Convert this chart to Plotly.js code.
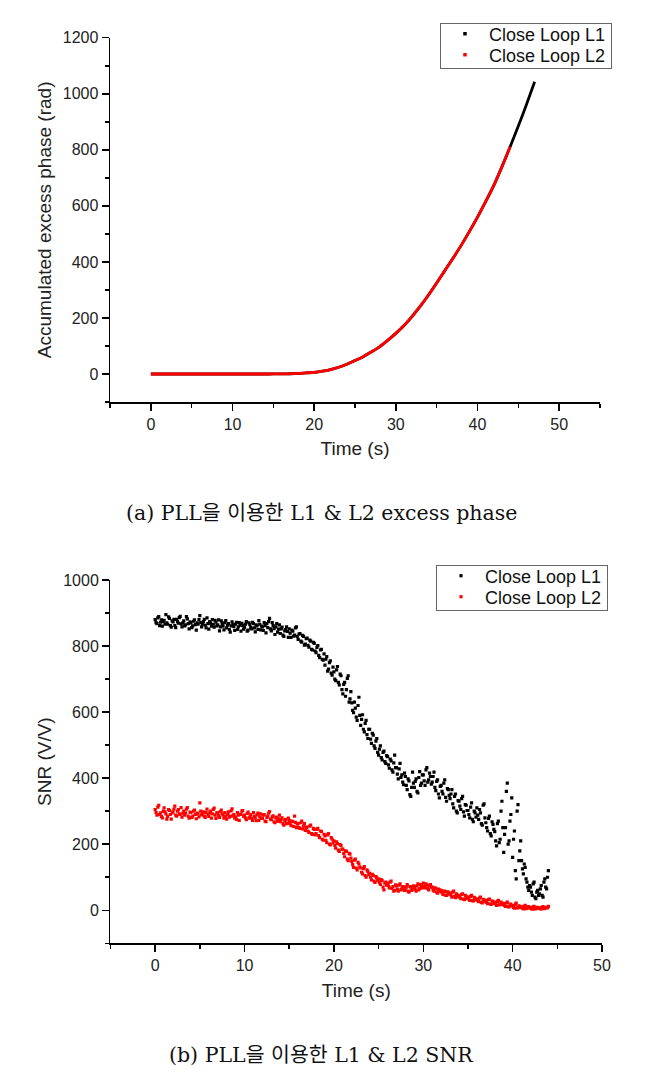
<!DOCTYPE html>
<html>
<head>
<meta charset="utf-8">
<script src="https://cdn.plot.ly/plotly-3.0.1.min.js"></script>
<style>
html,body{margin:0;padding:0;background:#fff;}
#chart{width:653px;height:1091px;}
</style>
</head>
<body>
<div id="chart"></div>
<script>
// ---------- (a) accumulated excess phase ----------
const PHASE_T = [0,2,4,6,8,10,12,14,15,16,17,18,19,20,21,22,23,24,25,26,27,28,29,30,31,32,33,34,35,36,37,38,39,40,41,42,43,44,45,46,47];
const PHASE_L1 = [0,0,0,0,0,0,0,0,0.2,0.5,1,2,4,6,10,16,24,35,48,62,79,97,120,145,173,206,242,282,325,369,413,459,508,560,615,673,740,811,885,962,1043];
const PHASE_L2 = [0,0,0,0,0,0,0,0,0.2,0.5,1,2,4,6,10,16,24,35,48,62,79,97,120,145,173,206,242,282,325,369,413,459,508,560,615,673,740,811];

// ---------- (b) SNR ----------
const SNR_T = [
0,0.1,0.2,0.3,0.4,0.5,0.6,0.7,0.8,0.9, 1,1.1,1.2,1.3,1.4,1.5,1.6,1.7,1.8,1.9,
2,2.1,2.2,2.3,2.4,2.5,2.6,2.7,2.8,2.9, 3,3.1,3.2,3.3,3.4,3.5,3.6,3.7,3.8,3.9,
4,4.1,4.2,4.3,4.4,4.5,4.6,4.7,4.8,4.9, 5,5.1,5.2,5.3,5.4,5.5,5.6,5.7,5.8,5.9,
6,6.1,6.2,6.3,6.4,6.5,6.6,6.7,6.8,6.9, 7,7.1,7.2,7.3,7.4,7.5,7.6,7.7,7.8,7.9,
8,8.1,8.2,8.3,8.4,8.5,8.6,8.7,8.8,8.9, 9,9.1,9.2,9.3,9.4,9.5,9.6,9.7,9.8,9.9,
10,10.1,10.2,10.3,10.4,10.5,10.6,10.7,10.8,10.9, 11,11.1,11.2,11.3,11.4,11.5,11.6,11.7,11.8,11.9,
12,12.1,12.2,12.3,12.4,12.5,12.6,12.7,12.8,12.9, 13,13.1,13.2,13.3,13.4,13.5,13.6,13.7,13.8,13.9,
14,14.1,14.2,14.3,14.4,14.5,14.6,14.7,14.8,14.9, 15,15.1,15.2,15.3,15.4,15.5,15.6,15.7,15.8,15.9,
16,16.1,16.2,16.3,16.4,16.5,16.6,16.7,16.8,16.9, 17,17.1,17.2,17.3,17.4,17.5,17.6,17.7,17.8,17.9,
18,18.1,18.2,18.3,18.4,18.5,18.6,18.7,18.8,18.9, 19,19.1,19.2,19.3,19.4,19.5,19.6,19.7,19.8,19.9,
20,20.1,20.2,20.3,20.4,20.5,20.6,20.7,20.8,20.9, 21,21.1,21.2,21.3,21.4,21.5,21.6,21.7,21.8,21.9,
22,22.1,22.2,22.3,22.4,22.5,22.6,22.7,22.8,22.9, 23,23.1,23.2,23.3,23.4,23.5,23.6,23.7,23.8,23.9,
24,24.1,24.2,24.3,24.4,24.5,24.6,24.7,24.8,24.9, 25,25.1,25.2,25.3,25.4,25.5,25.6,25.7,25.8,25.9,
26,26.1,26.2,26.3,26.4,26.5,26.6,26.7,26.8,26.9, 27,27.1,27.2,27.3,27.4,27.5,27.6,27.7,27.8,27.9,
28,28.1,28.2,28.3,28.4,28.5,28.6,28.7,28.8,28.9, 29,29.1,29.2,29.3,29.4,29.5,29.6,29.7,29.8,29.9,
30,30.1,30.2,30.3,30.4,30.5,30.6,30.7,30.8,30.9, 31,31.1,31.2,31.3,31.4,31.5,31.6,31.7,31.8,31.9,
32,32.1,32.2,32.3,32.4,32.5,32.6,32.7,32.8,32.9, 33,33.1,33.2,33.3,33.4,33.5,33.6,33.7,33.8,33.9,
34,34.1,34.2,34.3,34.4,34.5,34.6,34.7,34.8,34.9, 35,35.1,35.2,35.3,35.4,35.5,35.6,35.7,35.8,35.9,
36,36.1,36.2,36.3,36.4,36.5,36.6,36.7,36.8,36.9, 37,37.1,37.2,37.3,37.4,37.5,37.6,37.7,37.8,37.9,
38,38.1,38.2,38.3,38.4,38.5,38.6,38.7,38.8,38.9, 39,39.1,39.2,39.3,39.4,39.5,39.6,39.7,39.8,39.9,
40,40.1,40.2,40.3,40.4,40.5,40.6,40.7,40.8,40.9, 41,41.1,41.2,41.3,41.4,41.5,41.6,41.7,41.8,41.9,
42,42.1,42.2,42.3,42.4,42.5,42.6,42.7,42.8,42.9, 43,43.1,43.2,43.3,43.4,43.5,43.6,43.7,43.8,43.9,
44];

const SNR_L1 = [
880,871,868,885,889,862,872,879,860,874, 878,866,895,870,866,888,884,862,857,876,
873,881,862,856,881,874,869,886,890,867, 858,870,876,861,864,889,882,868,852,873,
870,856,861,875,879,865,848,870,866,880, 892,871,858,866,874,881,863,855,885,868,
851,874,869,860,880,866,857,878,872,861, 864,879,846,858,876,868,860,849,871,877,
855,863,868,850,842,861,873,866,859,847, 866,872,850,858,871,863,845,869,862,851,
857,866,874,845,848,870,865,856,852,872, 868,855,843,864,861,850,877,866,849,860,
858,847,871,862,840,868,856,874,884,852, 846,871,862,853,835,858,868,842,851,864,
838,852,857,833,829,846,850,858,844,826, 852,839,826,848,845,830,833,855,858,829,
820,836,838,815,812,832,829,803,806,822, 824,802,797,818,815,790,788,811,808,785,
780,796,801,772,765,788,790,760,757,776, 742,760,768,724,730,750,755,718,712,736,
722,700,695,728,738,690,682,715,710,668, 655,684,690,648,668,702,710,630,640,662,
628,605,598,630,612,585,575,620,645,590, 560,578,592,548,540,566,575,532,520,548,
548,518,505,536,530,498,490,512,520,478, 470,488,498,462,455,478,482,450,445,468,
465,440,430,458,452,425,418,446,470,432, 432,412,398,428,445,402,410,388,380,415,
405,378,365,398,392,350,345,372,418,385, 372,390,398,360,355,402,420,378,385,410,
410,392,378,425,432,388,395,415,405,382, 388,405,418,372,362,390,395,352,340,375,
378,360,352,385,395,342,330,368,365,348, 338,352,365,322,310,345,352,300,295,332,
330,315,305,338,345,298,285,320,318,302, 302,290,280,312,325,275,268,300,295,282,
310,288,275,305,295,262,258,318,322,280, 265,250,240,278,285,232,225,268,260,245,
238,210,195,262,270,205,215,300,330,250, 175,230,250,360,385,200,210,270,290,340,
160,215,240,120,95,300,320,150,180,210, 150,125,110,140,130,95,85,70,60,75,
70,55,45,80,85,40,35,55,60,45, 50,65,75,45,40,85,95,70,65,100,
120];

const SNR_L2 = [
305,296,288,312,318,290,295,284,280,300, 310,298,292,276,284,305,302,290,276,295,
298,306,315,288,285,300,305,292,290,311, 282,294,300,288,294,306,311,285,279,297,
296,281,285,300,303,290,277,294,292,283, 325,300,289,294,298,285,281,296,306,290,
284,295,300,279,292,305,309,288,278,296, 295,287,281,299,303,292,288,279,296,285,
276,290,298,282,285,301,307,286,290,279, 283,275,296,288,272,290,291,300,302,284,
288,280,274,293,297,279,283,290,279,272, 296,285,280,271,289,294,272,283,292,278,
278,288,290,270,268,281,285,294,299,276, 274,283,286,268,265,279,282,270,277,288,
268,275,280,262,258,271,275,262,264,279, 272,262,256,270,268,254,285,266,250,261,
262,250,248,265,270,246,255,262,242,251, 252,240,236,255,258,232,230,248,245,228,
232,245,248,226,220,240,238,215,212,230, 225,212,205,228,232,200,198,220,215,204,
210,196,188,207,202,182,178,199,196,185, 185,172,162,180,178,155,150,172,170,158,
148,138,130,152,155,128,122,145,140,131, 128,115,110,126,132,105,100,122,118,108,
112,100,92,109,105,88,84,102,98,90, 95,84,78,93,90,70,62,82,85,76,
82,74,68,85,88,66,72,58,60,77, 74,64,58,76,80,62,65,72,70,60,
62,70,78,58,55,72,70,60,64,74, 72,64,58,74,80,62,66,78,75,68,
82,72,68,80,76,66,62,74,78,70, 70,62,58,68,66,55,52,64,62,57,
60,53,48,58,57,46,45,56,54,49, 52,46,40,55,58,42,38,50,47,41,
44,38,35,48,50,34,32,45,42,36, 40,34,30,42,45,29,28,39,36,31,
34,29,26,37,40,24,22,33,31,26, 30,24,20,32,34,19,18,28,27,21,
24,19,15,27,30,16,18,25,22,17, 20,15,12,22,25,11,10,19,18,13,
14,9,6,18,22,7,8,13,12,9, 10,6,4,12,15,5,6,10,11,7,
8,5,3,10,12,4,5,8,9,6, 7,5,4,9,11,5,6,8,9,7,
12];

const SERIES_NAMES = ['Close Loop L1', 'Close Loop L2'];
const CAPTIONS = ['(a) PLL을 이용한 L1 &amp; L2 excess phase', '(b) PLL을 이용한 L1 &amp; L2 SNR'];
const X_TITLE = 'Time (s)';
const Y_TITLES = ['Accumulated excess phase (rad)', 'SNR (V/V)'];

const BLACK = '#000000', RED = '#ff0000';
const SANS = '"Liberation Sans", Arial, sans-serif';
const SERIF = '"DejaVu Serif", "Noto Sans CJK KR", serif';

const traces = [
  {x: PHASE_T, y: PHASE_L1, xaxis: 'x', yaxis: 'y', mode: 'lines', showlegend: false,
   line: {color: BLACK, width: 2.8, shape: 'spline', smoothing: 0.8}, hoverinfo: 'skip'},
  {x: PHASE_T.slice(0, PHASE_L2.length), y: PHASE_L2, xaxis: 'x', yaxis: 'y', mode: 'lines', showlegend: false,
   line: {color: RED, width: 2.8, shape: 'spline', smoothing: 0.8}, hoverinfo: 'skip'},
  // legend keys for panel (a)
  {x: [null], y: [null], xaxis: 'x', yaxis: 'y', mode: 'markers', name: SERIES_NAMES[0], legend: 'legend',
   marker: {color: BLACK, size: 3.5, symbol: 'square'}},
  {x: [null], y: [null], xaxis: 'x', yaxis: 'y', mode: 'markers', name: SERIES_NAMES[1], legend: 'legend',
   marker: {color: RED, size: 3.5, symbol: 'square'}},
  // panel (b)
  {x: SNR_T, y: SNR_L1, xaxis: 'x2', yaxis: 'y2', mode: 'markers', name: SERIES_NAMES[0], legend: 'legend2',
   marker: {color: BLACK, size: 3.2, symbol: 'square'}},
  {x: SNR_T, y: SNR_L2, xaxis: 'x2', yaxis: 'y2', mode: 'markers', name: SERIES_NAMES[1], legend: 'legend2',
   marker: {color: RED, size: 3.2, symbol: 'square'}}
];

function xAxis(domain, anchor, range) {
  return {
    domain: domain, anchor: anchor, range: range, autorange: false,
    tick0: 0, dtick: 10, ticks: 'outside', ticklen: 7, tickwidth: 1.5, tickcolor: '#000',
    showline: true, linewidth: 1.5, linecolor: '#000', showgrid: false, zeroline: false,
    tickfont: {family: SANS, size: 16, color: '#222'},
    minor: {dtick: 5, tick0: 0, ticks: 'outside', ticklen: 4, tickwidth: 1.5, tickcolor: '#000', showgrid: false},
    title: {text: X_TITLE, font: {family: SANS, size: 19, color: '#222'}, standoff: 10}
  };
}
function yAxis(domain, anchor, range, title) {
  return {
    domain: domain, anchor: anchor, range: range, autorange: false,
    tick0: 0, dtick: 200, ticks: 'outside', ticklen: 7, tickwidth: 1.5, tickcolor: '#000',
    showline: true, linewidth: 1.5, linecolor: '#000', showgrid: false, zeroline: false,
    tickfont: {family: SANS, size: 16, color: '#222'},
    minor: {dtick: 100, tick0: 0, ticks: 'outside', ticklen: 4, tickwidth: 1.5, tickcolor: '#000', showgrid: false},
    title: {text: title, font: {family: SANS, size: 19, color: '#222'}, standoff: 6}
  };
}

const legendStyle = (x, y) => ({
  x: x, y: y, xanchor: 'left', yanchor: 'top',
  bgcolor: '#fff', bordercolor: '#666', borderwidth: 1, itemwidth: 38,
  font: {family: SANS, size: 18, color: '#111'}, tracegroupgap: 0
});

const layout = {
  width: 653, height: 1091,
  margin: {l: 0, r: 0, t: 0, b: 0},
  paper_bgcolor: '#fff', plot_bgcolor: '#fff',
  font: {family: SANS, color: '#222'},
  xaxis: xAxis([0.1685, 0.9188], 'y', [-5, 55]),
  yaxis: yAxis([0.6315, 0.9654], 'x', [-100, 1200], Y_TITLES[0]),
  xaxis2: xAxis([0.1692, 0.9219], 'y2', [-5, 50]),
  yaxis2: yAxis([0.1354, 0.4684], 'x2', [-100, 1000], Y_TITLES[1]),
  legend: legendStyle(0.6738, 0.9789),
  legend2: legendStyle(0.6677, 0.4821),
  annotations: [
    {text: CAPTIONS[0], xref: 'paper', yref: 'paper', x: 0.4923, y: 1 - 513 / 1091,
     xanchor: 'center', yanchor: 'middle', showarrow: false,
     font: {family: SERIF, size: 20.5, color: '#111'}},
    {text: CAPTIONS[1], xref: 'paper', yref: 'paper', x: 0.4923, y: 1 - 1055 / 1091,
     xanchor: 'center', yanchor: 'middle', showarrow: false,
     font: {family: SERIF, size: 20.5, color: '#111'}}
  ],
  showlegend: true
};

const LEGEND_ROW = 21;     // row pitch of the legend entries (px)
const LEGEND_BOX_H = 45;   // legend frame height (px)

Plotly.newPlot('chart', traces, layout, {staticPlot: true, displayModeBar: false}).then(gd => {
  // tighten the legend rows to match the compact Origin-style legend
  gd.querySelectorAll('g.legend, g.legend2').forEach(lg => {
    const items = lg.querySelectorAll('g.traces');
    if (items.length < 2) return;
    const parse = el => {
      const m = /translate\(\s*([-\d.e]+)[ ,]+([-\d.e]+)\s*\)/.exec(el.getAttribute('transform') || '');
      return m ? [parseFloat(m[1]), parseFloat(m[2])] : [0, 0];
    };
    const p0 = parse(items[0]);
    const y0 = p0[1] - 8.5;
    items.forEach((it, i) => {
      const p = parse(it);
      it.setAttribute('transform', 'translate(' + p[0] + ',' + (y0 + i * LEGEND_ROW) + ')');
    });
    const bg = lg.querySelector('rect.bg');
    if (bg) bg.setAttribute('height', LEGEND_BOX_H);
  });
});
</script>
</body>
</html>
